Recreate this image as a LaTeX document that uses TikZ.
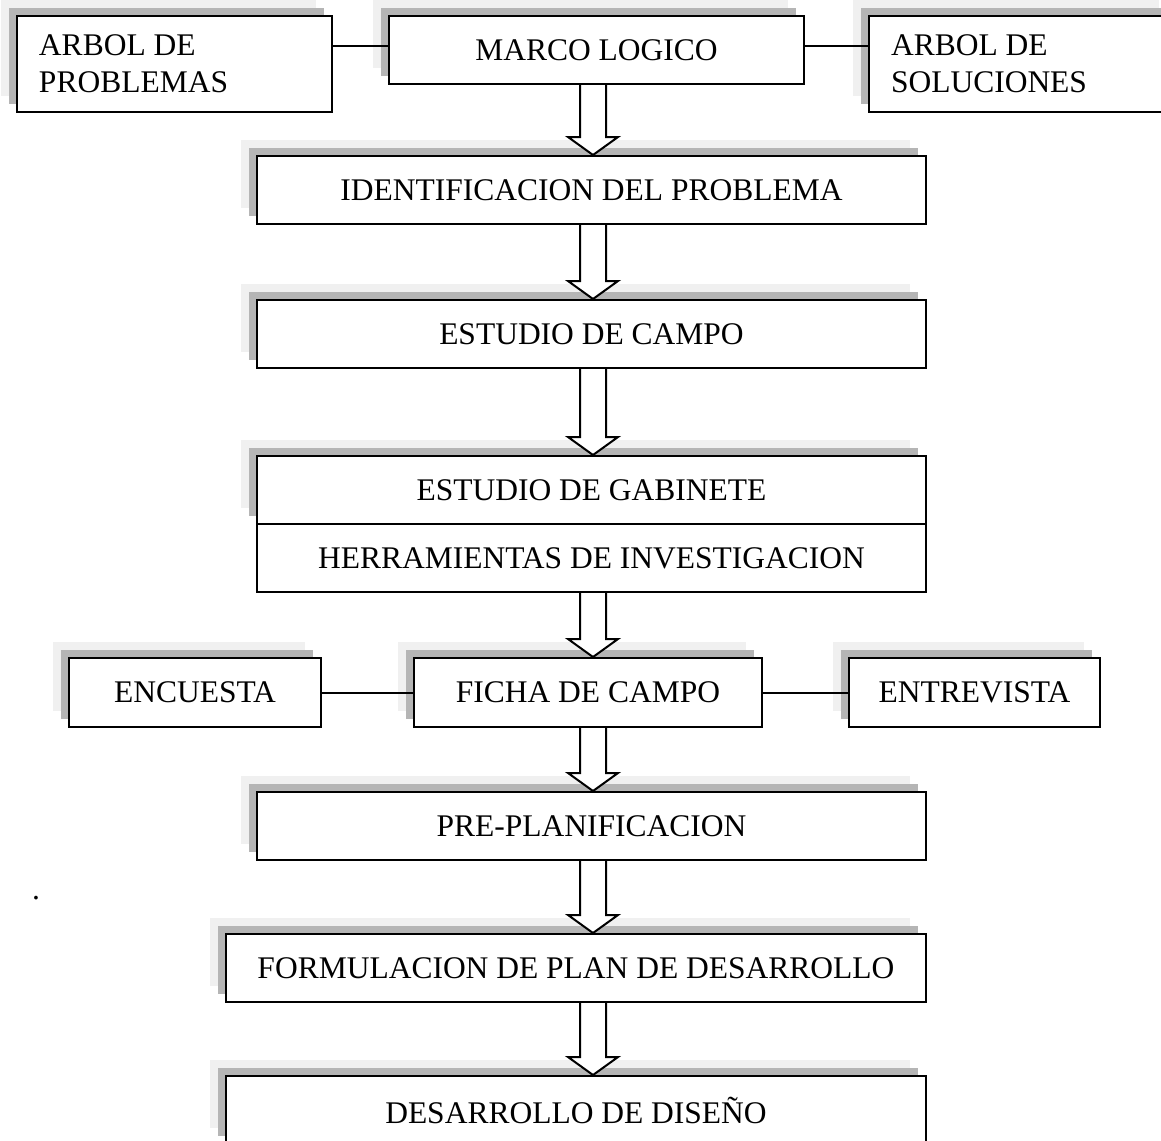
\documentclass[tikz,border=0pt]{standalone}
\usepackage{fontspec}
\setmainfont{Liberation Serif}
\usetikzlibrary{shadows, calc}

\definecolor{sombraosc}{RGB}{181,181,181}
\definecolor{sombraclara}{RGB}{240,240,240}

\begin{document}
\begin{tikzpicture}[x=0.5pt, y=-0.5pt, line width=1pt,
    caja/.style={draw, fill=white, inner sep=0pt, minimum height=34pt,
        font=\fontsize{15.75}{18.5}\selectfont},
    sombra/.style={general shadow={fill=sombraclara, shadow xshift=-8pt, shadow yshift=8pt},
        general shadow={fill=sombraosc, shadow xshift=-4pt, shadow yshift=4pt}},
    flecha/.style={draw, fill=white, line join=miter}]
    \useasboundingbox (0, 0) rectangle (1161, 1140);

    % fila superior
    \node[caja, sombra, minimum height=48pt, inner xsep=11pt, text width=135.5pt, align=flush left] (arbolprob) at (174.5, 64) {ARBOL DE\\PROBLEMAS};
    \node[caja, sombra, minimum width=207.5pt] (marco) at (596.5, 50) {MARCO LOGICO};
    \node[caja, sombra, minimum height=48pt, inner xsep=11pt, text width=131pt, align=flush left] (arbolsol) at (1022, 64) {ARBOL DE\\SOLUCIONES};

    % columna central
    \node[caja, sombra, minimum width=334.5pt] (identif) at (591.5, 190) {IDENTIFICACION DEL PROBLEMA};
    \node[caja, sombra, minimum width=334.5pt] (campo) at (591.5, 334) {ESTUDIO DE CAMPO};
    \node[caja, sombra, minimum width=334.5pt] (gabinete) at (591.5, 490) {ESTUDIO DE GABINETE};
    \node[caja, minimum width=334.5pt] (herram) at (591.5, 558) {HERRAMIENTAS DE INVESTIGACION};

    % herramientas
    \node[caja, sombra, minimum width=126pt, minimum height=34.5pt] (encuesta) at (195, 692.5) {ENCUESTA};
    \node[caja, sombra, minimum width=174pt, minimum height=34.5pt] (ficha) at (588, 692.5) {FICHA DE CAMPO};
    \node[caja, sombra, minimum width=125.5pt, minimum height=34.5pt] (entrevista) at (974.5, 692.5) {ENTREVISTA};

    \node[caja, sombra, minimum width=334.5pt] (preplan) at (591.5, 826) {PRE-PLANIFICACION};
    \node[font=\fontsize{15.75}{18.5}\selectfont, inner sep=0pt] (punto) at (36, 898) {.};
    \node[caja, sombra, minimum width=350pt] (formul) at (576, 968) {FORMULACION DE PLAN DE DESARROLLO};
    \node[caja, sombra, minimum width=350pt] (diseno) at (576, 1110) {DESARROLLO DE DISEÑO};

    % lineas
    \draw ([yshift=2pt]marco.west) -- ([yshift=2pt]marco.west -| arbolprob.east);
    \draw ([yshift=2pt]marco.east) -- ([yshift=2pt]marco.east -| arbolsol.west);
    \draw (ficha.west) -- (encuesta.east);
    \draw (ficha.east) -- (entrevista.west);

    % flechas
    \coordinate (eje) at (593, 0);
    \foreach \a/\b in {marco/identif, identif/campo, campo/gabinete, herram/ficha, ficha/preplan, preplan/formul, formul/diseno}
        \draw[flecha] ($(\a.south -| eje)+(-13,0)$) -- ($(\b.north -| eje)+(-13,-18)$) -- ++(-12,0)
            -- (\b.north -| eje) -- ++(25,-18) -- ++(-12,0) -- ($(\a.south -| eje)+(13,0)$);
\end{tikzpicture}
\end{document}
